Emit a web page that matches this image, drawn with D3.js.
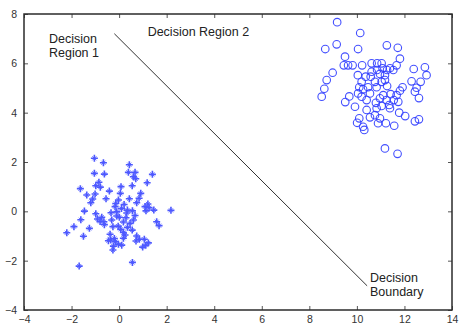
<!DOCTYPE html>
<html>
<head>
<meta charset="utf-8">
<script src="https://cdn.jsdelivr.net/npm/d3@7"></script>
<style>
  html, body { margin: 0; padding: 0; background: #fff; }
  svg { display: block; font-family: "Liberation Sans", Arial, Helvetica, sans-serif; }
</style>
</head>
<body>
<svg id="chart" width="459" height="325"></svg>
<script>
// Class 1 samples ("*" markers)
const crossX = [-1.04,-0.66,0.43,-1.04,-0.62,0.39,0.67,0.60,0.70,1.40,-0.85,-0.98,-0.79,-1.63,-0.41,0.08,0.55,1.18,
  -1.36,-1.01,-1.11,-0.55,0.05,0.43,0.91,0.84,-1.19,-0.03,-0.14,0.21,0.74,1.21,1.26,1.13,1.46,2.18,-1.46,-0.98,-0.34,
  -0.10,0.10,0.35,0.56,-0.73,-0.80,-0.64,-0.91,-1.61,-0.31,0.01,0.29,0.60,1.58,1.68,-1.90,-1.25,-0.26,0.07,0.35,0.55,
  -2.20,-1.50,-0.38,0.25,-0.35,-0.45,-0.16,-0.03,0.11,-0.24,0.74,0.85,0.71,1.06,1.12,-0.26,0.56,-1.68,0.18,0.46,
  -0.10,0.18,0.67,-0.62,-0.04,0.18,-0.20,0.99,1.23,0.32,-0.17,1.09];
const crossY = [2.15,1.97,1.89,1.54,1.51,1.58,1.58,1.40,1.32,1.50,1.18,1.04,0.98,0.92,0.82,1.00,1.04,1.16,
  0.66,0.70,0.50,0.51,0.73,0.51,0.73,0.53,0.35,0.46,0.32,0.28,0.35,0.30,0.15,0.02,0.05,0.04,0.01,-0.10,-0.06,
  -0.02,0.11,0.05,0.02,-0.24,-0.41,-0.42,-0.31,-0.34,-0.35,-0.24,-0.26,-0.35,-0.42,-0.58,-0.62,-0.69,-0.62,-0.73,-0.65,-0.76,
  -0.87,-1.01,-0.93,-0.96,-1.16,-1.19,-1.23,-1.33,-1.37,-1.41,-1.00,-1.13,-1.20,-1.13,-1.37,-1.57,-2.07,-2.22,-1.09,-0.49,
  -0.19,-0.43,-0.17,-0.54,-0.60,-0.86,-1.10,-1.45,-1.28,-0.07,0.19,0.19];

// Class 2 samples ("o" markers)
const circleX = [9.17,10.14,9.15,8.67,10.05,11.26,11.72,9.50,11.81,9.63,9.82,10.22,10.62,10.85,11.67,11.53,8.98,8.73,8.63,8.52,
  12.39,12.86,12.93,12.68,12.30,12.51,12.44,12.61,11.92,11.81,10.04,9.68,9.51,9.92,11.78,12.03,12.44,12.61,11.57,11.18,11.71,
  10.01,10.26,10.31,10.89,11.22,10.62,10.85,11.08,11.27,11.39,10.58,10.97,11.18,10.76,11.04,10.20,10.10,10.47,10.83,11.27,
  11.67,11.42,11.11,10.97,10.20,10.55,10.41,10.80,11.25,11.55,11.36,11.04,10.83,10.41,10.76,10.55,10.10,10.97,11.39,11.74,
  10.26,10.05,11.18,10.37,11.04,9.45];
const circleY = [7.67,7.23,6.77,6.58,6.58,6.73,6.63,6.27,6.19,5.92,5.92,5.92,6.00,6.00,5.92,5.73,5.62,5.32,4.97,4.65,
  5.77,5.84,5.52,5.25,5.27,5.01,4.85,4.59,5.03,4.89,5.52,4.66,4.43,4.24,4.00,3.86,3.65,3.73,3.47,2.55,2.33,
  3.59,3.43,3.30,3.57,3.57,5.66,5.73,5.80,5.73,5.80,5.46,5.57,5.52,5.25,5.25,5.25,5.03,5.03,5.03,5.08,
  4.71,4.75,4.71,4.58,4.65,4.78,4.51,4.40,4.51,4.51,4.31,4.27,4.18,4.11,3.90,3.81,3.77,3.77,4.18,4.44,
  4.95,4.78,5.32,5.46,6.00,5.92];

// Decision boundary end points
const boundaryX = [-0.2, 10.43];
const boundaryY = [7.2, -3.02];

// Axis ticks
const xTicks = [-4, -2, 0, 2, 4, 6, 8, 10, 12, 14];
const yTicks = [-4, -2, 0, 2, 4, 6, 8];

// Annotations: lines of text anchored at a data point
const labelLines = [["Decision", "Region 1"], ["Decision Region 2"], ["Decision", "Boundary"]];
const labelX = [-2.95, 1.2, 10.55];
const labelY = [6.82, 7.12, -2.85];

const W = 459, H = 325;
const margin = { left: 24, right: 7, top: 14, bottom: 15 };
const svg = d3.select("#chart");

const x = d3.scaleLinear().domain([-4, 14]).range([margin.left, W - margin.right]);
const y = d3.scaleLinear().domain([-4, 8]).range([H - margin.bottom, margin.top]);

const axisColor = "#2b2b2b";
const textColor = "#333";
const blue = "#2f3cff";

function styleAxis(g, showLabels) {
  g.select(".domain").remove();
  g.selectAll(".tick line").attr("stroke", "#555").attr("stroke-width", 1);
  g.selectAll(".tick text")
    .attr("fill", textColor)
    .style("font-size", "10.5px")
    .style("display", showLabels ? null : "none");
}

// Bottom / left axes with labels, ticks pointing inward
svg.append("g")
  .attr("transform", `translate(0,${y(-4)})`)
  .call(d3.axisBottom(x).tickValues(xTicks).tickSizeInner(-4).tickSizeOuter(0).tickPadding(6))
  .call(g => styleAxis(g, true));

svg.append("g")
  .attr("transform", `translate(${x(-4)},0)`)
  .call(d3.axisLeft(y).tickValues(yTicks).tickSizeInner(-4).tickSizeOuter(0).tickPadding(7))
  .call(g => styleAxis(g, true));

// Top / right axes: ticks only
svg.append("g")
  .attr("transform", `translate(0,${y(8)})`)
  .call(d3.axisTop(x).tickValues(xTicks).tickSizeInner(-4).tickSizeOuter(0))
  .call(g => styleAxis(g, false));

svg.append("g")
  .attr("transform", `translate(${x(14)},0)`)
  .call(d3.axisRight(y).tickValues(yTicks).tickSizeInner(-4).tickSizeOuter(0))
  .call(g => styleAxis(g, false));

// Plot frame
svg.append("rect")
  .attr("x", x(-4)).attr("y", y(8))
  .attr("width", x(14) - x(-4)).attr("height", y(-4) - y(8))
  .attr("fill", "none").attr("stroke", axisColor).attr("stroke-width", 1.5);

// Decision boundary
svg.append("line")
  .attr("x1", x(boundaryX[0])).attr("y1", y(boundaryY[0]))
  .attr("x2", x(boundaryX[1])).attr("y2", y(boundaryY[1]))
  .attr("stroke", "#333").attr("stroke-width", 1);

// Class 1: star-like markers
const star = svg.append("g").attr("stroke", blue).attr("stroke-linecap", "butt").attr("opacity", 0.85);
crossX.forEach((cx, i) => {
  const px = x(cx), py = y(crossY[i]);
  star.append("path")
    .attr("d", `M${px - 3.5},${py}H${px + 3.5}M${px},${py - 3.5}V${py + 3.5}`)
    .attr("stroke-width", 1.6);
  star.append("path")
    .attr("d", `M${px - 2},${py - 2}L${px + 2},${py + 2}M${px - 2},${py + 2}L${px + 2},${py - 2}`)
    .attr("stroke-width", 0.9);
});

// Class 2: open circles
svg.append("g")
  .selectAll("circle")
  .data(circleX.map((cx, i) => [cx, circleY[i]]))
  .join("circle")
  .attr("cx", d => x(d[0]))
  .attr("cy", d => y(d[1]))
  .attr("r", 3.8)
  .attr("fill", "none")
  .attr("stroke", blue)
  .attr("stroke-width", 1.1)
  .attr("opacity", 0.9);

// Annotations
labelLines.forEach((lines, i) => {
  const t = svg.append("text")
    .attr("x", x(labelX[i])).attr("y", y(labelY[i]))
    .attr("fill", "#222")
    .style("font-size", "12.5px");
  lines.forEach((s, j) => {
    t.append("tspan").attr("x", x(labelX[i])).attr("dy", j === 0 ? 0 : 14).text(s);
  });
});
</script>
</body>
</html>
